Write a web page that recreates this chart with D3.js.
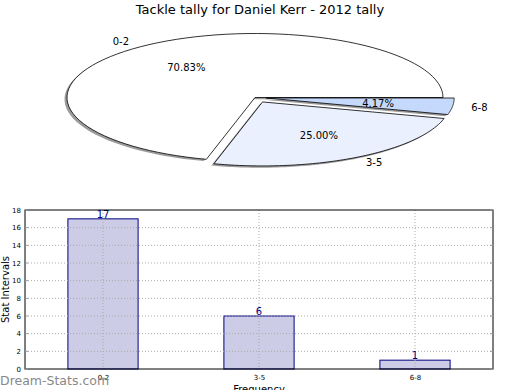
<!DOCTYPE html>
<html>
<head>
<meta charset="utf-8">
<script src="https://cdn.jsdelivr.net/npm/d3@7"></script>
<style>
  body { margin: 0; background: #fff; }
  text { font-family: "DejaVu Sans", sans-serif; }
</style>
</head>
<body>
<div id="chart"></div>
<script>
// data
const categories = ['0-2', '3-5', '6-8'];
const counts = [17, 6, 1];
const explode = [0, 0.08, 0.06];
const sliceColors = ['#ffffff', '#eaf0fd', '#c5d9fc'];
const yTicks = [0, 2, 4, 6, 8, 10, 12, 14, 16, 18];

const W = 520, H = 390;
const svg = d3.select('#chart').append('svg')
  .attr('width', W).attr('height', H);

// title
svg.append('text')
  .attr('x', 260).attr('y', 14)
  .attr('text-anchor', 'middle')
  .style('font-size', '13px')
  .text('Tackle tally for Daniel Kerr - 2012 tally');

// ---- squashed pie, matplotlib style (counterclockwise from 3 o'clock)
const cx = 255, cy = 97.5, rx = 188, ry = 64;
const total = d3.sum(counts);
let start = 0;
const slices = counts.map((c, i) => {
  const a0 = start, a1 = start + c / total * 2 * Math.PI;
  start = a1;
  return {i, a0, a1, mid: (a0 + a1) / 2, c};
});

function wedgePath(s, dx, dy) {
  const e = explode[s.i];
  const ox = Math.cos(s.mid) * e * rx + dx, oy = -Math.sin(s.mid) * e * ry + dy;
  const steps = 80;
  const p = d3.path();
  p.moveTo(cx + ox, cy + oy);
  for (let k = 0; k <= steps; k++) {
    const a = s.a0 + (s.a1 - s.a0) * k / steps;
    p.lineTo(cx + ox + Math.cos(a) * rx, cy + oy - Math.sin(a) * ry);
  }
  p.closePath();
  return p.toString();
}

const pie = svg.append('g');
// shadows
pie.selectAll('path.shadow')
  .data(slices).join('path')
  .attr('class', 'shadow')
  .attr('d', s => wedgePath(s, -2.5, 1.8))
  .attr('fill', '#666').attr('opacity', 0.65);

pie.selectAll('path.wedge')
  .data(slices).join('path')
  .attr('class', 'wedge')
  .attr('d', s => wedgePath(s, 0, 0))
  .attr('fill', s => sliceColors[s.i])
  .attr('stroke', '#000').attr('stroke-width', 0.8)
  .attr('stroke-linejoin', 'round');

// labels
pie.selectAll('text.lab')
  .data(slices).join('text')
  .attr('class', 'lab')
  .attr('x', s => cx + Math.cos(s.mid) * (1.1 + explode[s.i]) * rx)
  .attr('y', s => cy - Math.sin(s.mid) * (1.1 + explode[s.i]) * ry)
  .attr('dy', '0.35em')
  .attr('text-anchor', s => Math.cos(s.mid) < 0 ? 'end' : 'start')
  .style('font-size', '10px')
  .text(s => categories[s.i]);

pie.selectAll('text.pct')
  .data(slices).join('text')
  .attr('class', 'pct')
  .attr('x', s => cx + Math.cos(s.mid) * (0.6 + explode[s.i]) * rx)
  .attr('y', s => cy - Math.sin(s.mid) * (0.6 + explode[s.i]) * ry)
  .attr('dy', '0.35em')
  .attr('text-anchor', 'middle')
  .style('font-size', '10px')
  .text(s => (s.c / total * 100).toFixed(2) + '%');

// ---- bar chart
const m = {left: 25, right: 493, top: 210, bottom: 369};
const x = d3.scaleLinear().domain([-0.5, 2.5]).range([m.left, m.right]);
const y = d3.scaleLinear().domain([0, 18]).range([m.bottom, m.top]);
const barW = 0.45;

const g = svg.append('g');

// bars
g.selectAll('rect.bar')
  .data(counts).join('rect')
  .attr('x', (d, i) => x(i - barW / 2))
  .attr('width', (d, i) => x(i + barW / 2) - x(i - barW / 2))
  .attr('y', d => y(d))
  .attr('height', d => y(0) - y(d))
  .attr('fill', '#cccce6')
  .attr('stroke', '#000080').attr('stroke-width', 1);

// grid drawn on top of bars
g.selectAll('line.hgrid')
  .data(yTicks.slice(1, -1)).join('line')
  .attr('x1', m.left).attr('x2', m.right)
  .attr('y1', d => y(d)).attr('y2', d => y(d))
  .attr('stroke', '#aaa').attr('stroke-width', 1)
  .attr('stroke-dasharray', '1,2');

g.selectAll('line.vgrid')
  .data(categories).join('line')
  .attr('x1', (d, i) => x(i)).attr('x2', (d, i) => x(i))
  .attr('y1', m.top).attr('y2', m.bottom)
  .attr('stroke', '#aaa').attr('stroke-width', 1)
  .attr('stroke-dasharray', '1,2');

// value labels
g.selectAll('text.val')
  .data(counts).join('text')
  .attr('x', (d, i) => x(i))
  .attr('y', d => y(d) - 1)
  .attr('text-anchor', 'middle')
  .attr('fill', '#000080')
  .style('font-size', '10px')
  .text(d => d);

// frame
g.append('rect')
  .attr('x', m.left).attr('y', m.top)
  .attr('width', m.right - m.left).attr('height', m.bottom - m.top)
  .attr('fill', 'none').attr('stroke', '#000').attr('stroke-width', 1);

// y axis
const yAxis = g.append('g')
  .attr('transform', `translate(${m.left},0)`)
  .call(d3.axisLeft(y).tickValues(yTicks).tickSize(0).tickPadding(4));
yAxis.select('.domain').remove();
yAxis.selectAll('text').style('font-size', '7px').attr('font-family', 'DejaVu Sans');

// inward ticks left & right
g.selectAll('line.ytl')
  .data(yTicks).join('line')
  .attr('x1', m.left).attr('x2', m.left + 3)
  .attr('y1', d => y(d)).attr('y2', d => y(d))
  .attr('stroke', '#999');
g.selectAll('line.ytr')
  .data(yTicks).join('line')
  .attr('x1', m.right - 3).attr('x2', m.right)
  .attr('y1', d => y(d)).attr('y2', d => y(d))
  .attr('stroke', '#999');

// x axis
const xAxis = g.append('g')
  .attr('transform', `translate(0,${m.bottom})`)
  .call(d3.axisBottom(x).tickValues([0, 1, 2]).tickFormat(i => categories[i]).tickSize(0).tickPadding(6));
xAxis.select('.domain').remove();
xAxis.selectAll('text').style('font-size', '7px').attr('font-family', 'DejaVu Sans');

// axis labels
svg.append('text')
  .attr('transform', `translate(5,${(m.top + m.bottom) / 2}) rotate(-90)`)
  .attr('text-anchor', 'middle')
  .attr('dy', '0.35em')
  .style('font-size', '10px')
  .text('Stat Intervals');

svg.append('text')
  .attr('x', (m.left + m.right) / 2).attr('y', 393)
  .attr('text-anchor', 'middle')
  .style('font-size', '10px')
  .text('Frequency');

// watermark
svg.append('text')
  .attr('x', 0).attr('y', 385)
  .attr('fill', '#888')
  .style('font-size', '12.5px')
  .text('Dream-Stats.com');
</script>
</body>
</html>
